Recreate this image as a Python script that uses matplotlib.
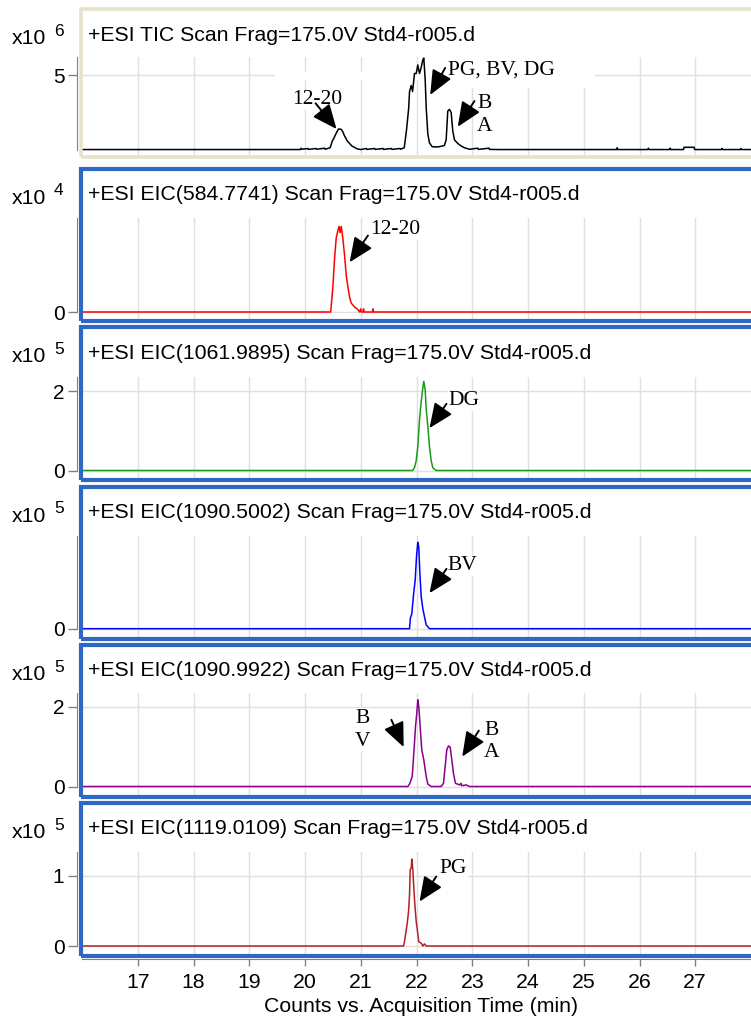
import matplotlib
matplotlib.use('Agg')
import matplotlib.pyplot as plt
from matplotlib.patches import Rectangle
import numpy as np

plt.rcParams['font.family'] = 'Liberation Sans'

# ---- data (time in min, counts in panel units) ----
# TIC, x10^6
tic_t = [16.0, 19.92, 19.93, 19.95, 20.05, 20.06, 20.20, 20.21, 20.35, 20.36, 20.45,
         20.49, 20.52, 20.55, 20.60, 20.65, 20.68, 20.71, 20.76, 20.84, 20.94,
         21.00, 21.10, 21.11, 21.25, 21.26, 21.40, 21.41, 21.55, 21.56, 21.70, 21.71, 21.78,
         21.82, 21.86, 21.875, 21.905, 21.93, 21.964, 21.995, 22.023, 22.054, 22.084,
         22.113, 22.131, 22.156, 22.174, 22.203, 22.233, 22.281, 22.353, 22.41, 22.50,
         22.532, 22.561, 22.591, 22.622, 22.651, 22.681, 22.74, 22.80, 22.86, 22.95,
         23.10, 23.11, 23.30, 23.31, 23.49, 25.59, 25.60, 25.61, 26.15, 26.16, 26.17,
         26.54, 26.55, 26.56, 26.79, 26.80, 26.98, 26.99, 27.47, 27.48, 27.49, 27.81, 27.82, 27.83, 28.0]
tic_v = [0.03, 0.03, 0.12, 0.05, 0.10, 0.04, 0.10, 0.05, 0.12, 0.05, 0.15,
         0.60, 0.80, 1.05, 1.40, 1.38, 1.20, 0.93, 0.60, 0.27, 0.07,
         0.03, 0.10, 0.04, 0.10, 0.04, 0.10, 0.04, 0.10, 0.04, 0.10, 0.05, 0.15,
         1.30, 2.80, 3.90, 4.30, 3.90, 5.10, 5.10, 5.67, 5.10, 5.50,
         6.00, 6.13, 4.67, 2.82, 1.07, 0.47, 0.22, 0.20, 0.22, 0.30,
         0.67, 2.60, 2.71, 2.49, 1.27, 0.67, 0.44, 0.27, 0.15, 0.05,
         0.12, 0.04, 0.12, 0.04, 0.03, 0.03, 0.15, 0.03, 0.03, 0.12, 0.03,
         0.03, 0.12, 0.03, 0.03, 0.18, 0.18, 0.03, 0.03, 0.10, 0.03, 0.03, 0.10, 0.03, 0.03]

# EIC 584.7741, x10^4
eic1_t = [16.0, 20.46, 20.471, 20.50, 20.53, 20.56, 20.59, 20.61, 20.63, 20.65, 20.68, 20.71,
          20.74, 20.77, 20.80, 20.83, 20.89, 20.94, 20.98, 21.00, 21.01, 21.04, 21.05, 21.06,
          21.21, 21.22, 21.23, 28.0]
eic1_v = [0.0, 0.0, 0.06, 0.24, 0.51, 0.71, 0.78, 0.82, 0.76, 0.82, 0.70, 0.54,
          0.35, 0.24, 0.14, 0.085, 0.047, 0.028, 0.0, 0.03, 0.0, 0.0, 0.03, 0.0,
          0.0, 0.03, 0.0, 0.0]

# EIC 1061.9895, x10^5
eic2_t = [16.0, 21.93, 21.964, 21.995, 22.023, 22.054, 22.084, 22.113, 22.131, 22.156,
          22.174, 22.203, 22.233, 22.263, 22.292, 22.353, 28.0]
eic2_v = [0.0, 0.0, 0.07, 0.25, 0.60, 1.29, 1.74, 2.08, 2.25, 2.03,
          1.55, 1.12, 0.60, 0.25, 0.07, 0.0, 0.0]

# EIC 1090.5002, x10^5
eic3_t = [16.0, 21.875, 21.89, 21.916, 21.946, 21.977, 22.0, 22.023, 22.04, 22.06,
          22.084, 22.113, 22.143, 22.174, 22.233, 28.0]
eic3_v = [0.0, 0.0, 0.22, 0.31, 0.70, 1.02, 1.50, 1.80, 1.71, 1.16,
          0.67, 0.42, 0.25, 0.08, 0.0, 0.0]

# EIC 1090.9922, x10^5
eic4_t = [16.0, 21.844, 21.875, 21.923, 21.952, 21.982, 22.005, 22.023, 22.041, 22.066,
          22.095, 22.131, 22.174, 22.203, 22.263, 22.443, 22.484, 22.514, 22.543, 22.573,
          22.604, 22.633, 22.663, 22.699, 22.771, 22.80, 22.81, 22.89, 22.95, 28.0]
eic4_v = [0.0, 0.0, 0.06, 0.25, 0.84, 1.50, 1.84, 2.18, 2.01, 1.50,
          0.92, 0.67, 0.25, 0.06, 0.0, 0.0, 0.08, 0.50, 0.92, 1.02,
          0.99, 0.67, 0.33, 0.08, 0.04, 0.08, 0.02, 0.04, 0.0, 0.0]

# EIC 1119.0109, x10^5
eic5_t = [16.0, 21.767, 21.785, 21.803, 21.833, 21.857, 21.875, 21.887, 21.905, 21.916,
          21.934, 21.952, 21.970, 21.995, 22.023, 22.041, 22.084, 22.113, 22.143, 22.174, 28.0]
eic5_v = [0.0, 0.0, 0.06, 0.16, 0.32, 0.49, 0.73, 1.09, 1.11, 1.24,
          1.09, 0.83, 0.59, 0.35, 0.18, 0.06, 0.04, 0.0, 0.03, 0.0, 0.0]

series_t = [tic_t, eic1_t, eic2_t, eic3_t, eic4_t, eic5_t]
series_v = [tic_v, eic1_v, eic2_v, eic3_v, eic4_v, eic5_v]

titles = ['+ESI TIC Scan Frag=175.0V Std4-r005.d',
          '+ESI EIC(584.7741) Scan Frag=175.0V Std4-r005.d',
          '+ESI EIC(1061.9895) Scan Frag=175.0V Std4-r005.d',
          '+ESI EIC(1090.5002) Scan Frag=175.0V Std4-r005.d',
          '+ESI EIC(1090.9922) Scan Frag=175.0V Std4-r005.d',
          '+ESI EIC(1119.0109) Scan Frag=175.0V Std4-r005.d']
exponents = ['6', '4', '5', '5', '5', '5']
yticks = [[5], [0], [0, 2], [0], [0, 2], [0, 1]]
ymax = [6.2, 0.9, 2.36, 1.93, 2.35, 1.34]
line_colors = ['black', '#ff0000', '#1a9a1a', '#0000ff', '#8b008b', '#b22222']
x_ticks = np.arange(17, 28)

# peak labels: panel, text, arrow head (data), tail offset (px), text offset (px), alignment
ann_panel = [0, 0, 0, 1, 2, 3, 4, 4, 5]
ann_text = ['12-20', 'PG, BV, DG', 'B\nA', '12-20', 'DG', 'BV', 'B\nV', 'B\nA', 'PG']
ann_head = [(20.566, 1.40), (22.245, 3.67), (22.74, 1.55), (20.80, 0.476), (22.233, 1.07),
            (22.233, 0.74), (21.77, 0.99), (22.82, 0.75), (22.054, 0.633)]
ann_tail = [(-21, 25.7), (15, 27), (16.7, 25.7), (18.3, 26.7), (17, 24.3),
            (17, 24.3), (-12.3, 27.3), (16.6, 26), (16.7, 25)]
ann_txt = [(-19.5, 29), (18.3, 25), (27.2, 11.7), (46, 32.7), (19, 27.3),
           (18, 27.3), (-40.7, 17.3), (29, 15), (20, 32.7)]
ann_ha = ['center', 'left', 'center', 'center', 'left', 'left', 'center', 'center', 'left']

# ---- layout in pixels of the 751x1019 picture ----
W, H = 751, 1019
frame_top = [9.5, 168.5, 327.5, 486.5, 645.0, 803.0]
frame_bot = [157.0, 321.0, 480.0, 638.5, 797.0, 955.5]
axis_top = [57, 218, 377, 536, 693, 852]
zero_px = [150, 312, 470.5, 628.7, 786.5, 946]


def fx(x):
    return x / W


def fy(y):
    return 1 - y / H


fig = plt.figure(figsize=(7.51, 10.19), dpi=100)

axes = []
for i in range(6):
    ax = fig.add_axes([fx(82), fy(frame_bot[i]), fx(751) - fx(82), (frame_bot[i] - axis_top[i]) / H])
    span = zero_px[i] - axis_top[i]
    ybot = -(frame_bot[i] - zero_px[i]) / span * ymax[i]
    ax.plot(series_t[i], series_v[i], color=line_colors[i], lw=1.1, zorder=2)
    ax.set_xlim(16, 28)
    ax.set_ylim(ybot, ymax[i])
    ax.set_xticks(x_ticks)
    ax.set_yticks(yticks[i])
    ax.grid(True, color='#e0e0e0', lw=1)
    ax.set_axisbelow(True)
    for s in ['top', 'right', 'bottom']:
        ax.spines[s].set_visible(False)
    ax.spines['left'].set_position(('outward', 3.6))
    ax.spines['left'].set_bounds(0, ymax[i])
    ax.spines['left'].set_color('#808080')
    ax.tick_params(axis='y', length=6.5, width=1, color='#808080', labelsize=15, pad=2.5)
    ax.tick_params(axis='x', length=0, labelbottom=False)

    # frame around the panel
    if i == 0:
        fc, flw = '#e6e2cc', 2.6
    else:
        fc, flw = '#2f68c4', 3.0
    fig.add_artist(Rectangle((fx(80.7), fy(frame_bot[i])), fx(820) - fx(80.7),
                             (frame_bot[i] - frame_top[i]) / H, transform=fig.transFigure,
                             fill=False, ec=fc, lw=flw, zorder=5))
    fig.text(fx(88), fy(frame_top[i] + 26), titles[i], ha='left', va='center', fontsize=15.3)
    fig.text(fx(12), fy(frame_top[i] + 29.5), 'x10', ha='left', va='center', fontsize=15.3)
    fig.text(fx(54), fy(frame_top[i] + 22), exponents[i], ha='left', va='center', fontsize=12.5)
    axes.append(ax)

# white patches pasted over the TIC panel around the label
axes[0].add_patch(Rectangle((19.46, 4.67), 5.75, 0.55, fc='white', ec='none', zorder=1))
axes[0].add_patch(Rectangle((22.59, 4.13), 2.62, 2.2, fc='white', ec='none', zorder=1))

# bottom time axis
axb = axes[-1]
axb.spines['bottom'].set_visible(True)
axb.spines['bottom'].set_position(('outward', 2.5))
axb.spines['bottom'].set_color('#808080')
axb.tick_params(axis='x', length=5, width=1, color='#808080', labelsize=15.3, pad=5,
                labelbottom=True, direction='out')
fig.text(fx(421), fy(1007), 'Counts vs. Acquisition Time (min)', ha='center', va='center', fontsize=15.3)

# peak labels with arrows
for k in range(len(ann_text)):
    ax = axes[ann_panel[k]]
    ax.annotate(ann_text[k], xy=ann_head[k], xytext=ann_txt[k], textcoords='offset pixels',
                ha=ann_ha[k], va='center', fontsize=15.5, family='Liberation Serif',
                linespacing=1.25, zorder=3,
                bbox=dict(fc='white', ec='none', pad=0.5))
    ax.annotate('', xy=ann_head[k], xytext=ann_tail[k], textcoords='offset pixels', zorder=4,
                arrowprops=dict(arrowstyle='-|>,head_length=1.5,head_width=0.65', mutation_scale=10,
                                lw=1.4, color='black', shrinkA=0, shrinkB=0))

fig.savefig('out.png', dpi=100)
